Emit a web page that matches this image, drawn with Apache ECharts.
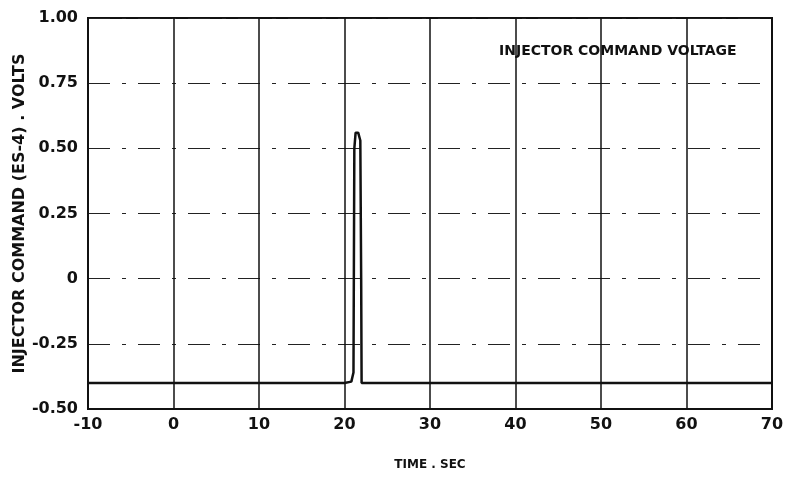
<!DOCTYPE html>
<html>
<head>
<meta charset="utf-8">
<script src="https://cdn.jsdelivr.net/npm/echarts@6/dist/echarts.min.js"></script>
<style>
  html, body { margin: 0; padding: 0; background: #fff; }
  #chart { width: 788px; height: 478px; }
</style>
</head>
<body>
<div id="chart"></div>
<script>
// injector command trace
var timeSec = [-10, -5, 0, 10, 20, 20.8, 21.05, 21.15, 21.3, 21.6, 21.85, 21.95, 22.0, 22.1, 30, 40, 50, 60, 70];
var volts   = [-0.40, -0.40, -0.40, -0.40, -0.40, -0.395, -0.36, 0.50, 0.56, 0.56, 0.53, 0.0, -0.40, -0.40, -0.40, -0.40, -0.40, -0.40, -0.40];
var yTicks  = ['-0.50', '-0.25', '0', '0.25', '0.50', '0.75', '1.00'];

var pts = timeSec.map(function (t, i) { return [t, volts[i]]; });
var font = '"DejaVu Sans", sans-serif';

var option = {
    backgroundColor: '#fff',
    animation: false,
    grid: { left: 88, right: 16, top: 18, bottom: 69, outerBoundsMode: 'none', containLabel: false },
    xAxis: {
        type: 'value',
        min: -10, max: 70, interval: 10,
        name: 'TIME . SEC',
        nameLocation: 'middle',
        nameGap: 50,
        nameTextStyle: { color: '#111', fontFamily: font, fontWeight: 'bold', fontSize: 12 },
        axisLine: { onZero: false, lineStyle: { color: '#111', width: 2 } },
        axisTick: { show: false },
        axisLabel: { color: '#111', fontFamily: font, fontWeight: 'bold', fontSize: 16, margin: 8 },
        splitLine: { lineStyle: { color: '#111', width: 1.5 } }
    },
    yAxis: {
        type: 'value',
        min: -0.5, max: 1.0, interval: 0.25,
        name: 'INJECTOR COMMAND (ES-4) . VOLTS',
        nameLocation: 'middle',
        nameGap: 60,
        nameMoveOverlap: false,
        nameTextStyle: { color: '#111', fontFamily: font, fontWeight: 'bold', fontSize: 16 },
        axisLine: { show: true, onZero: false, lineStyle: { color: '#111', width: 2 } },
        axisTick: { show: false },
        axisLabel: {
            color: '#111', fontFamily: font, fontWeight: 'bold', fontSize: 16, margin: 10,
            formatter: function (v) {
                var i = Math.round((v + 0.5) / 0.25);
                return yTicks[i];
            }
        },
        splitLine: { lineStyle: { color: '#222', width: 1.2, type: [22, 12, 4, 12] } }
    },
    graphic: [
        { type: 'rect', shape: { x: 88, y: 18, width: 684, height: 391 },
          style: { fill: 'none', stroke: '#111', lineWidth: 2 }, silent: true },
        { type: 'text', left: 499, top: 44,
          style: { text: 'INJECTOR COMMAND VOLTAGE', fill: '#111', font: 'bold 14px ' + font } }
    ],
    series: [{
        type: 'line',
        data: pts,
        symbol: 'none',
        lineStyle: { color: '#111', width: 2.5 }
    }]
};

var myChart = echarts.init(document.getElementById('chart'));
myChart.setOption(option);
</script>
</body>
</html>
